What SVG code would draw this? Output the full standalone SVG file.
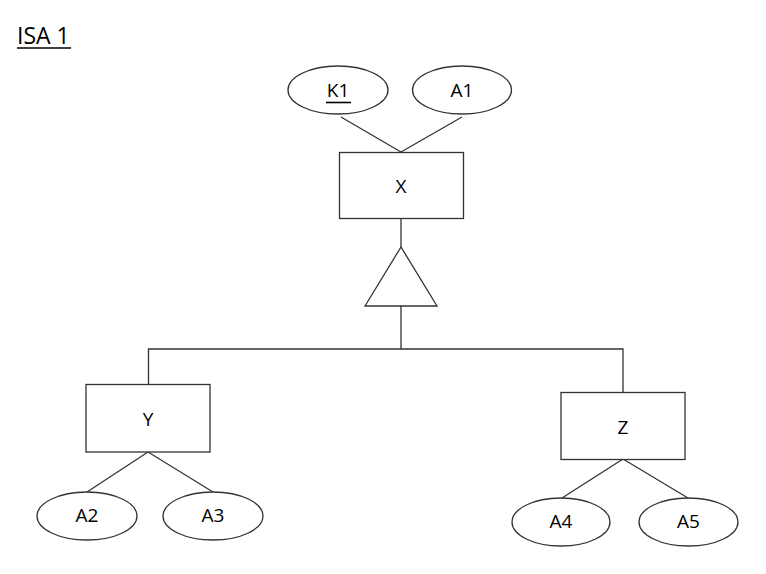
<svg xmlns="http://www.w3.org/2000/svg" width="766" height="574" viewBox="0 0 766 574">
<style>
.s{fill:#fff;stroke:#333;stroke-width:1.3}
.c{fill:none;stroke:#333;stroke-width:1.3}
.t{font-family:"Open Sans","Liberation Sans",sans-serif;font-size:19px;fill:#000;text-anchor:middle}
.u{stroke:#000;stroke-width:1.6}
</style>
<rect width="766" height="574" fill="#fff"/>
<g id="title">
<text x="17" y="44" font-family="Open Sans, Liberation Sans, sans-serif" font-size="23" fill="#000">ISA 1</text>
<line class="u" x1="17" y1="48" x2="71" y2="48"/>
</g>
<g id="connectors">
<line class="c" x1="341" y1="117" x2="401" y2="152"/>
<line class="c" x1="462" y1="117" x2="401" y2="152"/>
<line class="c" x1="401" y1="218" x2="401" y2="247"/>
<line class="c" x1="401" y1="306" x2="401" y2="349"/>
<polyline class="c" points="148.5,384 148.5,349 623,349 623,392"/>
<line class="c" x1="148" y1="452" x2="87" y2="492"/>
<line class="c" x1="148" y1="452" x2="213" y2="492"/>
<line class="c" x1="623" y1="459" x2="562" y2="498"/>
<line class="c" x1="623" y1="459" x2="688" y2="498"/>
</g>
<g id="K1">
<ellipse class="s" cx="338" cy="90" rx="50" ry="24"/>
<text class="t" x="338" y="97">K1</text>
<line class="u" x1="326" y1="102.5" x2="351" y2="102.5"/>
</g>
<g id="A1">
<ellipse class="s" cx="462" cy="90" rx="49.5" ry="24"/>
<text class="t" x="462" y="97">A1</text>
</g>
<g id="X">
<rect class="s" x="339.5" y="152.5" width="124" height="66"/>
<text class="t" x="401" y="193">X</text>
</g>
<g id="isa">
<polygon class="s" points="401,247 365,306 437,306"/>
</g>
<g id="Y">
<rect class="s" x="86" y="384.5" width="124" height="67.5"/>
<text class="t" x="148" y="426">Y</text>
</g>
<g id="Z">
<rect class="s" x="561" y="392.5" width="124" height="67"/>
<text class="t" x="623" y="434">Z</text>
</g>
<g id="A2">
<ellipse class="s" cx="87" cy="516" rx="50" ry="24"/>
<text class="t" x="87" y="522">A2</text>
</g>
<g id="A3">
<ellipse class="s" cx="213" cy="516" rx="50" ry="24"/>
<text class="t" x="213" y="522">A3</text>
</g>
<g id="A4">
<ellipse class="s" cx="561" cy="522" rx="49" ry="24"/>
<text class="t" x="561" y="528">A4</text>
</g>
<g id="A5">
<ellipse class="s" cx="688.5" cy="522" rx="49.5" ry="24"/>
<text class="t" x="688.5" y="528">A5</text>
</g>
</svg>
